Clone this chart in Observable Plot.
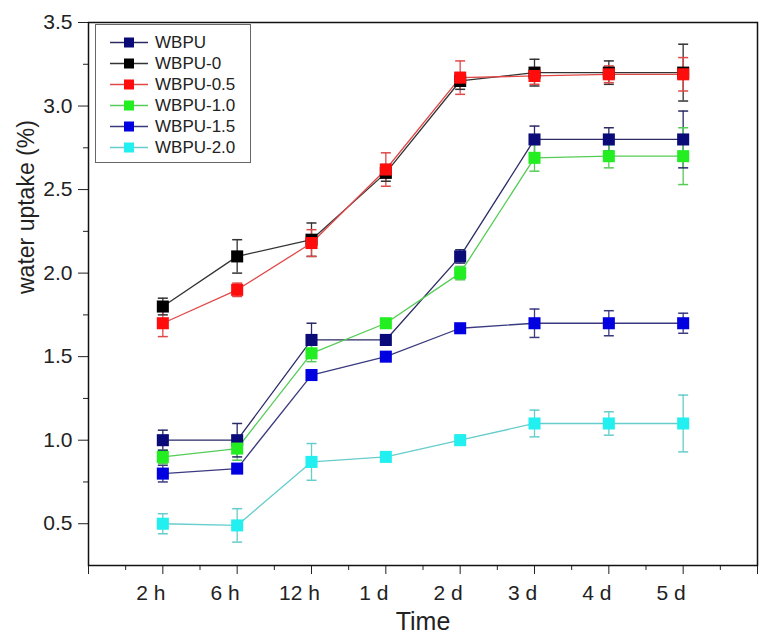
<!DOCTYPE html>
<html>
<head>
<meta charset="utf-8">
<script src="https://cdn.jsdelivr.net/npm/d3@7"></script>
<script src="https://cdn.jsdelivr.net/npm/@observablehq/plot@0.6"></script>
<style>
  body { margin: 0; background: #fff; }
  #wrap { position: relative; width: 772px; height: 642px; font-family: "Liberation Sans", Arial, sans-serif; }
  #legend { position: absolute; left: 95px; top: 24px; width: 156px; height: 139px; box-sizing: border-box;
            border: 1px solid #666; background: #fff; padding-top: 7px; font-size: 17px; color: #222; }
  #legend .row { height: 21px; display: flex; align-items: center; }
  #legend svg { flex: none; }
</style>
</head>
<body>
<div id="wrap"><div id="chart"></div><div id="legend"></div></div>
<script>
// tiempos y series
const times = ["2 h", "6 h", "12 h", "1 d", "2 d", "3 d", "4 d", "5 d"]
const series = ["WBPU", "WBPU-0", "WBPU-0.5", "WBPU-1.0", "WBPU-1.5", "WBPU-2.0"]

const wbpu     = [1.0, 1.0, 1.6, 1.6, 2.1, 2.8, 2.8, 2.8]
const wbpuErr  = [0.06, 0.1, 0.1, 0.02, 0.04, 0.08, 0.07, 0.17]
const wbpu0    = [1.8, 2.1, 2.2, 2.6, 3.15, 3.2, 3.2, 3.2]
const wbpu0Err = [0.05, 0.1, 0.1, 0.05, 0.05, 0.08, 0.07, 0.17]
const wbpu05   = [1.7, 1.9, 2.18, 2.62, 3.17, 3.18, 3.19, 3.19]
const wbpu05Err = [0.08, 0.04, 0.08, 0.1, 0.1, 0.05, 0.05, 0.1]
const wbpu10   = [0.9, 0.95, 1.52, 1.7, 2.0, 2.69, 2.7, 2.7]
const wbpu10Err = [0.04, 0.07, 0.05, 0.01, 0.04, 0.08, 0.07, 0.17]
const wbpu15   = [0.8, 0.83, 1.39, 1.5, 1.67, 1.7, 1.7, 1.7]
const wbpu15Err = [0.05, 0.02, 0.02, 0.02, 0.02, 0.085, 0.075, 0.06]
const wbpu20   = [0.5, 0.49, 0.87, 0.9, 1.0, 1.1, 1.1, 1.1]
const wbpu20Err = [0.06, 0.1, 0.11, 0.01, 0.03, 0.08, 0.07, 0.17]

const yTicks = [0.5, 1.0, 1.5, 2.0, 2.5, 3.0, 3.5]
const yMinor = [0.75, 1.25, 1.75, 2.25, 2.75, 3.25]

// colores: marcador / línea
const markColors = ["#0a0a78", "#000000", "#ff0d0d", "#22ee22", "#0000e0", "#22f0f0"]
const lineColors = ["#2a2a66", "#333333", "#e04848", "#55cc55", "#3a3a80", "#66cccc"]

const values = [wbpu, wbpu0, wbpu05, wbpu10, wbpu15, wbpu20]
const errors = [wbpuErr, wbpu0Err, wbpu05Err, wbpu10Err, wbpu15Err, wbpu20Err]

const rows = []
series.forEach((s, k) => {
  times.forEach((t, i) => {
    rows.push({series: s, k: k, t: i + 1, v: values[k][i], e: errors[k][i]})
  })
})
const errRows = rows.filter(d => d.e > 0.015)

// tapa de la barra de error
const cap = {draw(ctx) { ctx.moveTo(-5, 0); ctx.lineTo(5, 0) }}

let chart = Plot.plot({
  width: 772,
  height: 642,
  marginLeft: 88,
  marginRight: 15,
  marginTop: 22,
  marginBottom: 77,
  style: {fontFamily: "Liberation Sans, Arial, sans-serif", color: "#222", background: "#fff"},
  x: {domain: [0, 9]},
  y: {domain: [0.25, 3.5]},
  marks: [
    Plot.axisY(yTicks, {tickSize: 10, tickPadding: 6, fontSize: 21, tickFormat: d3.format(".1f"), label: null}),
    Plot.axisY(yMinor, {tickSize: 5, tickFormat: () => "", label: null}),
    Plot.axisX([0, 1, 2, 3, 4, 5, 6, 7, 8, 9], {tickSize: 9, tickFormat: () => "", label: null}),
    Plot.axisX([0.5, 1.5, 2.5, 3.5, 4.5, 5.5, 6.5, 7.5, 8.5], {tickSize: 5, tickFormat: () => "", label: null}),
    Plot.axisX([1, 2, 3, 4, 5, 6, 7, 8], {tickSize: 0, tickPadding: 20, dx: -12, fontSize: 21, tickFormat: i => times[i - 1], label: null}),
    Plot.text(["water uptake (%)"], {frameAnchor: "left", rotate: -90, dx: -62, fontSize: 23}),
    Plot.text(["Time"], {frameAnchor: "bottom", lineAnchor: "middle", dy: 56, fontSize: 25}),
    Plot.line(rows, {x: "t", y: "v", z: "series", stroke: d => lineColors[d.k], strokeWidth: 1.3}),
    Plot.ruleX(errRows, {x: "t", y1: d => d.v - d.e, y2: d => d.v + d.e, stroke: d => lineColors[d.k], strokeWidth: 1.3}),
    Plot.dot(errRows, {x: "t", y: d => d.v + d.e, symbol: cap, fill: "none", stroke: d => lineColors[d.k], strokeWidth: 1.5}),
    Plot.dot(errRows, {x: "t", y: d => d.v - d.e, symbol: cap, fill: "none", stroke: d => lineColors[d.k], strokeWidth: 1.5}),
    Plot.dot(rows, {x: "t", y: "v", symbol: "square", r: 6.8, fill: d => markColors[d.k]}),
    Plot.frame({stroke: "#111", strokeWidth: 1.5})
  ]
})
d3.select('#chart').append(() => chart)

// leyenda
const legend = d3.select('#legend')
series.forEach((s, k) => {
  const row = legend.append('div').attr('class', 'row')
  const sw = row.append('svg').attr('width', 59).attr('height', 21)
  sw.append('line').attr('x1', 14).attr('x2', 52).attr('y1', 10.5).attr('y2', 10.5)
    .attr('stroke', lineColors[k]).attr('stroke-width', 1.3)
  sw.append('rect').attr('x', 28).attr('y', 5.5).attr('width', 10).attr('height', 10).attr('fill', markColors[k])
  row.append('span').text(s)
})
</script>
</body>
</html>
